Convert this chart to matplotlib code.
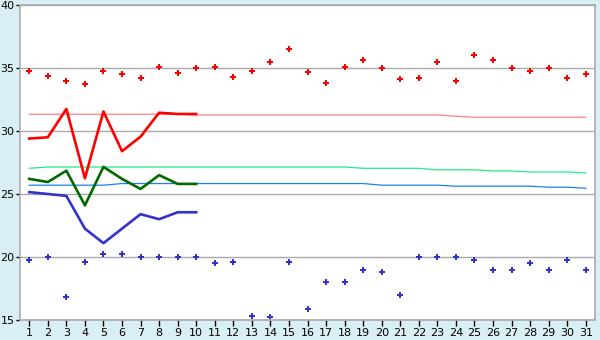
import numpy as np
import matplotlib
matplotlib.use('Agg')
from matplotlib import pyplot as plt

days = list(range(1, 32))

# daily maxima / minima (points)
max_pts = [34.8, 34.4, 34.0, 33.7, 34.8, 34.5, 34.2, 35.1, 34.6, 35.0,
           35.1, 34.3, 34.8, 35.5, 36.5, 34.7, 33.8, 35.1, 35.6, 35.0,
           34.1, 34.2, 35.5, 34.0, 36.0, 35.6, 35.0, 34.8, 35.0, 34.2, 34.5]
min_pts = [19.8, 20.0, 16.8, 19.6, 20.2, 20.2, 20.0, 20.0, 20.0, 20.0,
           19.5, 19.6, 15.3, 15.2, 19.6, 15.9, 18.0, 18.0, 19.0, 18.8,
           17.0, 20.0, 20.0, 20.0, 19.8, 19.0, 19.0, 19.5, 19.0, 19.8, 19.0]

# running averages, first 10 days
cur_days = list(range(1, 11))
max_avg = [29.4, 29.5, 31.75, 26.25, 31.55, 28.4, 29.55, 31.45, 31.35, 31.35]
mean_avg = [26.2, 25.95, 26.85, 24.1, 27.15, 26.2, 25.4, 26.5, 25.8, 25.8]
min_avg = [25.15, 25.0, 24.85, 22.25, 21.1, 22.25, 23.4, 23.0, 23.55, 23.55]

# long-term normals
max_norm = [31.33] * 9 + [31.27] * 14 + [31.17] + [31.09] * 7
mean_norm = [27.04] + [27.14] * 17 + [27.04] * 4 + [26.92] * 3 + [26.83] * 2 \
    + [26.75] * 3 + [26.67]
min_norm = [25.7] * 5 + [25.83] * 14 + [25.7] * 4 + [25.62] * 5 + [25.54] * 2 \
    + [25.46]

bg = '#daeff5'
fig = plt.figure(figsize=(6, 3.4), dpi=100, facecolor=bg)
ax = fig.add_axes([20 / 600, 20 / 340, 575 / 600, 315 / 340])
ax.set_facecolor('white')

ax.plot(days, max_norm, color='#ff8080', lw=0.9)
ax.plot(days, mean_norm, color='#20ee80', lw=0.9)
ax.plot(days, min_norm, color='#1a80ee', lw=0.9)

ax.plot(cur_days, max_avg, color='#ff0000', lw=1.9)
ax.plot(cur_days, mean_avg, color='#006a00', lw=1.9)
ax.plot(cur_days, min_avg, color='#3333cc', lw=1.9)

ax.plot(days, max_pts, 'P', color='#ff0000', ms=5, mew=0)
ax.plot(days, min_pts, 'P', color='#3333cc', ms=5, mew=0)

ax.set_xlim(0.5, 31.5)
ax.set_ylim(15, 40)
ax.set_xticks(days)
ax.set_yticks([15, 20, 25, 30, 35, 40])
ax.grid(axis='y', color='#aaaaaa', lw=1)
ax.set_axisbelow(True)
for s in ax.spines.values():
    s.set_color('#aaaaaa')
    s.set_linewidth(1.2)
ax.tick_params(axis='both', direction='out', length=3, width=1,
               color='black', labelsize=8, pad=1)
ax.tick_params(axis='x', length=4, pad=2)

fig.savefig('out.png', dpi=100, facecolor=bg)
